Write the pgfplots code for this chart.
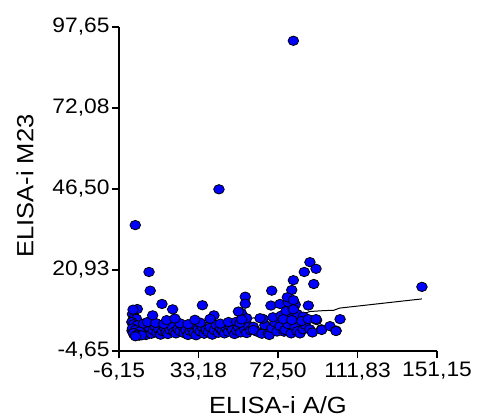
\documentclass[border=0pt]{standalone}
\usepackage{fontspec}
\setmainfont[FakeStretch=1.09]{Liberation Sans}
\usepackage{pgfplots}
\pgfplotsset{compat=1.18}
\definecolor{mblue}{RGB}{0,0,255}
\begin{document}
\begin{tikzpicture}
\useasboundingbox (0,0) rectangle (478bp,419bp);
\begin{axis}[
 at={(119bp,68bp)}, anchor=south west,
 scale only axis, width=318bp, height=324bp,
 xmin=-6.15, xmax=151.15, ymin=-4.65, ymax=97.65,
 axis x line*=bottom, axis y line*=left,
 axis line style={line width=1.3bp},
 xtick={-6.15,33.18,72.50,111.83,151.15},
 xticklabels={{-6,15},{33,18},{72,50},{111,83},{151,15}},
 ytick={-4.65,20.93,46.50,72.08,97.65},
 yticklabels={{-4,65},{20,93},{46,50},{72,08},{97,65}},
 tick align=outside, major tick length=7bp,
 tick style={line width=1.2bp, black},
 ticklabel style={font=\fontsize{21}{24}\selectfont},
 xticklabel style={yshift=-1bp},
 yticklabel style={xshift=1bp},
 xlabel={ELISA-i A/G}, ylabel={ELISA-i M23},
 label style={font=\fontsize{23.5}{28}\selectfont, inner sep=0pt},
 xlabel style={at={(axis description cs:0.5,-0.193)}, anchor=base},
 ylabel style={at={(axis description cs:-0.2689,0.509)}, anchor=base},
 clip=false,
]
\addplot[only marks, mark=*, mark size=5bp, mark options={fill=mblue, draw=black, line width=0.8bp, xscale=1.06, yscale=0.94}] table {
x y
0.3 1.8
1.2 0.6
2.1 2.4
3.0 1.2
3.8 0.2
4.6 2.0
5.5 1.0
6.4 3.0
7.2 0.4
8.1 1.7
9.0 2.6
9.9 0.8
10.8 1.9
11.7 3.2
12.6 1.1
13.5 2.2
14.4 0.5
15.3 1.6
16.2 2.8
17.1 1.3
18.0 0.7
19.0 2.1
20.0 3.0
21.0 1.4
22.0 0.9
23.0 2.3
24.0 1.6
25.0 3.4
26.0 1.0
27.0 2.0
28.0 0.4
29.0 1.7
30.0 2.5
31.0 1.2
32.0 0.3
33.0 2.2
34.0 1.5
35.0 3.0
36.0 0.8
37.0 2.0
38.0 1.3
39.0 2.8
40.0 0.5
41.0 1.9
42.0 3.6
43.0 1.1
44.0 2.4
45.0 1.7
46.0 0.9
47.0 2.6
48.0 1.4
49.0 3.1
50.0 2.0
51.0 0.7
52.0 1.8
53.0 2.9
54.0 1.2
55.0 3.8
56.0 2.3
57.0 1.0
58.0 3.3
59.0 1.9
0.5 7.0
1.5 6.0
2.5 5.5
0.2 4.5
1.0 3.8
3.0 3.5
0.5 2.5
2.0 2.0
4.0 1.5
1.0 1.0
3.0 0.5
5.0 0.3
2.0 0.0
6.0 4.0
8.0 4.5
12.0 4.2
16.0 3.9
24.0 4.1
28.0 3.8
34.0 4.3
44.0 4.0
48.0 4.5
52.0 4.6
60.3 3.0
62.3 1.4
60.3 2.0
64.5 0.8
66.0 3.5
67.7 0.9
68.2 0.4
69.5 2.5
71.0 4.4
72.0 1.5
73.5 3.2
75.5 1.45
76.0 2.0
77.5 3.8
79.0 0.9
80.9 3.0
82.0 1.6
83.4 0.9
84.9 2.2
86.0 3.6
88.2 2.2
89.5 1.2
94.0 2.2
94.1 2.0
98.2 3.2
101.2 1.8
101.2 1.65
65.0 5.5
70.0 6.0
74.0 6.5
78.0 6.8
82.0 7.0
85.0 6.2
76.5 8.0
79.5 9.5
81.0 10.0
80.1 93.3
43.3 46.4
1.9 35.1
8.7 20.3
9.3 14.4
143.7 15.6
88.3 23.4
85.5 20.3
91.3 21.3
90.2 16.5
80.1 17.7
79.3 14.6
69.4 14.4
56.3 12.5
56.3 10.3
35.1 9.8
15.1 10.2
20.4 8.5
2.9 8.6
0.8 8.4
69.0 9.7
73.5 10.2
77.6 10.7
87.5 9.7
77.1 12.3
80.1 11.4
80.1 8.5
54.3 7.4
40.8 6.6
10.5 6.6
38.9 5.5
31.4 5.2
17.4 5.1
21.5 5.6
57.0 5.7
63.6 5.7
75.1 5.4
79.3 5.1
84.2 4.8
87.5 5.4
91.6 5.1
103.2 5.4
52.9 7.8
53.7 4.2
54.5 5.3
91.3 5.4
};
\addplot[black, line width=1bp] table {
x y
0.5 2.0
67 6.2
80 7.3
87 7.5
88 7.8
95 8.1
100 8.2
103 8.9
143.7 11.8
};
\end{axis}
\end{tikzpicture}
\end{document}
